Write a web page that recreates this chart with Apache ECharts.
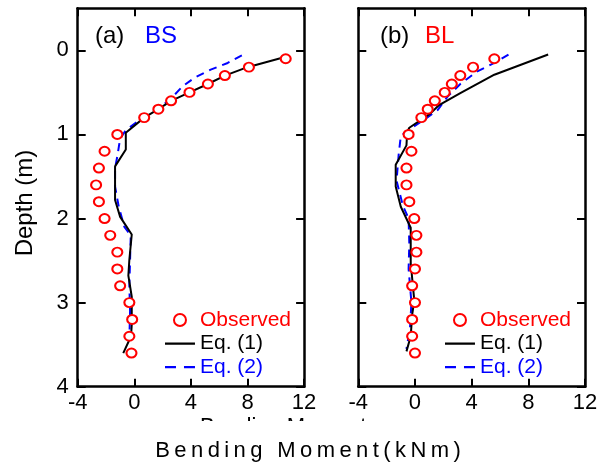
<!DOCTYPE html>
<html><head><meta charset="utf-8">
<script src="https://cdn.jsdelivr.net/npm/echarts@6/dist/echarts.min.js"></script>
<style>html,body{margin:0;padding:0;background:#fff}#c{width:605px;height:470px}</style>
</head><body><div id="c"></div>
<script>
// ---- data ----
const xTicks = [-4, 0, 4, 8, 12];
const depthTicks = [0, 1, 2, 3, 4];
const depthObs = [0.1,0.2,0.3,0.4,0.5,0.6,0.7,0.8,1.0,1.2,1.4,1.6,1.8,2.0,2.2,2.4,2.6,2.8,3.0,3.2,3.4,3.6];
const obsBS = [10.7,8.1,6.4,5.2,3.9,2.6,1.7,0.7,-1.2,-2.1,-2.5,-2.7,-2.5,-2.1,-1.7,-1.2,-1.2,-1.0,-0.35,-0.15,-0.35,-0.2];
const obsBL = [5.6,4.1,3.2,2.6,2.1,1.4,0.9,0.45,-0.45,-0.25,-0.6,-0.6,-0.4,-0.05,0.1,0.1,0.0,-0.2,0.0,-0.2,-0.2,0.0];
const eq1BSDepth = [0.08,0.2,0.3,0.4,0.5,0.6,0.7,0.8,0.98,1.18,1.38,1.78,1.98,2.19,2.49,2.68,2.93,3.26,3.4,3.6];
const eq1BS = [10.65,8.0,6.4,5.2,3.9,2.6,1.7,0.7,-0.6,-0.6,-1.36,-1.36,-1.0,-0.18,-0.35,-0.42,-0.18,-0.18,-0.23,-0.78];
const eq2BSDepth = [0.06,0.15,0.23,0.32,0.43,0.59,0.7,0.8,0.95,1.05,1.26,1.4,1.62,1.86,2.1,2.2,2.5,2.8,3.1,3.45];
const eq2BS = [7.6,6.6,5.4,4.3,3.4,2.5,1.6,0.6,-0.6,-1.0,-1.2,-1.36,-1.36,-1.1,-0.7,-0.25,-0.3,-0.35,-0.3,-0.35];
const eq1BLDepth = [0.05,0.29,0.51,0.65,0.75,0.92,0.97,1.13,1.36,1.62,1.86,2.11,2.53,2.97,3.15,3.4,3.58];
const eq1BL = [9.4,5.6,3.2,1.7,1.1,-0.4,-0.55,-0.6,-1.36,-1.36,-1.0,-0.3,-0.3,-0.05,-0.2,-0.3,-0.6];
const eq2BLDepth = [0.05,0.15,0.25,0.4,0.55,0.71,0.83,0.93,1.02,1.24,1.55,1.85,2.0,2.3,2.6,3.0,3.3,3.55];
const eq2BL = [6.6,5.6,4.4,3.2,2.3,1.6,0.6,-0.3,-1.0,-1.15,-1.3,-0.85,-0.45,-0.4,-0.45,-0.25,-0.35,-0.6];
const seriesNames = ['Observed', 'Eq. (1)', 'Eq. (2)'];
const panelLabels = ['(a)', '(b)'];
const panelNames = ['BS', 'BL'];

// ---- chart ----
const FONT = 'Liberation Sans, Arial, sans-serif';
const RED = '#ff0000', BLUE = '#0000ff', BLACK = '#000000';
const zip = (xs, ys) => xs.map((x, i) => [x, ys[i]]);

function xAx(grid, pos, showLabel) {
  return {
    type: 'value', gridIndex: grid, position: pos, min: -4, max: 12, interval: 4,
    axisLine: { onZero: false, lineStyle: { color: BLACK, width: 2.5 } },
    axisTick: { inside: true, length: 8, lineStyle: { color: BLACK, width: 2 } },
    axisLabel: { show: showLabel, color: BLACK, fontSize: 22, fontFamily: FONT, margin: 5,
      customValues: xTicks },
    splitLine: { show: false }
  };
}
function yAx(grid, pos, showLabel) {
  return {
    type: 'value', gridIndex: grid, position: pos, min: -0.5, max: 4, inverse: true,
    axisLine: { onZero: false, lineStyle: { color: BLACK, width: 2.5 } },
    axisTick: { inside: true, length: 8, lineStyle: { color: BLACK, width: 2 }, customValues: depthTicks },
    axisLabel: { show: showLabel, color: BLACK, fontSize: 22, fontFamily: FONT, margin: 9, customValues: depthTicks },
    splitLine: { show: false }
  };
}
function obsSeries(xi, yi, vals) {
  return { name: seriesNames[0], type: 'scatter', xAxisIndex: xi, yAxisIndex: yi,
    symbol: 'emptyCircle', symbolSize: [10, 9], z: 5,
    itemStyle: { color: RED, borderColor: RED, borderWidth: 2.2, opacity: 1 },
    data: zip(vals, depthObs) };
}
function lineSeries(name, xi, yi, xs, ds, color, dashed) {
  return { name, type: 'line', xAxisIndex: xi, yAxisIndex: yi, symbol: 'none', showSymbol: false,
    lineStyle: { color, width: 2, type: dashed ? [8, 6] : 'solid' }, itemStyle: { color },
    z: dashed ? 3 : 4, data: zip(xs, ds) };
}
const ICON_SOLID = 'path://M0,5h30v2.2h-30z M0,0h0.01v0.01h-0.01z M0,12h0.01v0.01h-0.01z';
const ICON_DASH = 'path://M0,5h11v2.2h-11z M19,5h11v2.2h-11z M0,0h0.01v0.01h-0.01z M0,12h0.01v0.01h-0.01z';
function legendFor(left) {
  return { left, top: 309.5, padding: 0, orient: 'vertical', itemWidth: 30, itemHeight: 12, itemGap: 2.5,
    selectedMode: false,
    textStyle: { fontSize: 21, fontFamily: FONT },
    data: [
      { name: seriesNames[0], icon: 'emptyCircle', itemStyle: { color: RED, borderColor: RED, borderWidth: 2.5 }, textStyle: { color: RED } },
      { name: seriesNames[1], icon: ICON_SOLID, itemStyle: { color: BLACK, borderWidth: 0 }, textStyle: { color: BLACK } },
      { name: seriesNames[2], icon: ICON_DASH, itemStyle: { color: BLUE, borderWidth: 0 }, textStyle: { color: BLUE } }
    ] };
}
const thin = s => s.split('').join('\u2009');

const option = {
  animation: false,
  backgroundColor: '#fff',
  grid: [
    { left: 77.7, top: 8.3, width: 226.4, height: 378.4 },
    { left: 358.3, top: 8.3, width: 226.7, height: 378.4 }
  ],
  xAxis: [xAx(0, 'bottom', true), xAx(0, 'top', false), xAx(1, 'bottom', true), xAx(1, 'top', false)],
  yAxis: [yAx(0, 'left', true), yAx(0, 'right', false), yAx(1, 'left', false), yAx(1, 'right', false)],
  legend: [legendFor(165), legendFor(445)],
  series: [
    lineSeries(seriesNames[2], 0, 0, eq2BS, eq2BSDepth, BLUE, true),
    lineSeries(seriesNames[1], 0, 0, eq1BS, eq1BSDepth, BLACK, false),
    obsSeries(0, 0, obsBS),
    lineSeries(seriesNames[2], 2, 2, eq2BL, eq2BLDepth, BLUE, true),
    lineSeries(seriesNames[1], 2, 2, eq1BL, eq1BLDepth, BLACK, false),
    obsSeries(2, 2, obsBL)
  ],
  graphic: [
    { type: 'text', x: 95, y: 36, style: { text: panelLabels[0], fill: BLACK, font: '24px ' + FONT, verticalAlign: 'middle' } },
    { type: 'text', x: 145, y: 36, style: { text: panelNames[0], fill: BLUE, font: '24px ' + FONT, verticalAlign: 'middle' } },
    { type: 'text', x: 380, y: 36, style: { text: panelLabels[1], fill: BLACK, font: '24px ' + FONT, verticalAlign: 'middle' } },
    { type: 'text', x: 425, y: 36, style: { text: panelNames[1], fill: RED, font: '24px ' + FONT, verticalAlign: 'middle' } },
    { type: 'text', x: 25, y: 203, rotation: Math.PI / 2, style: { text: 'Depth (m)', fill: BLACK, font: '24px ' + FONT, align: 'center', verticalAlign: 'middle' } },
    // partly covered duplicate title (only its top edge shows in the original)
    { type: 'text', x: 200, y: 416, z: 1, style: { text: 'Bending Moment', fill: BLACK, font: '22px ' + FONT, verticalAlign: 'top' } },
    { type: 'rect', z: 2, shape: { x: 150, y: 421, width: 330, height: 49 }, style: { fill: '#fff' } },
    { type: 'text', x: 308, y: 451, z: 3, style: { text: thin('Bending Moment(kNm)'), fill: BLACK, font: '22px ' + FONT, align: 'center', verticalAlign: 'middle' } }
  ]
};
const chart = echarts.init(document.getElementById('c'), null, { renderer: 'canvas' });
chart.setOption(option);
</script></body></html>
